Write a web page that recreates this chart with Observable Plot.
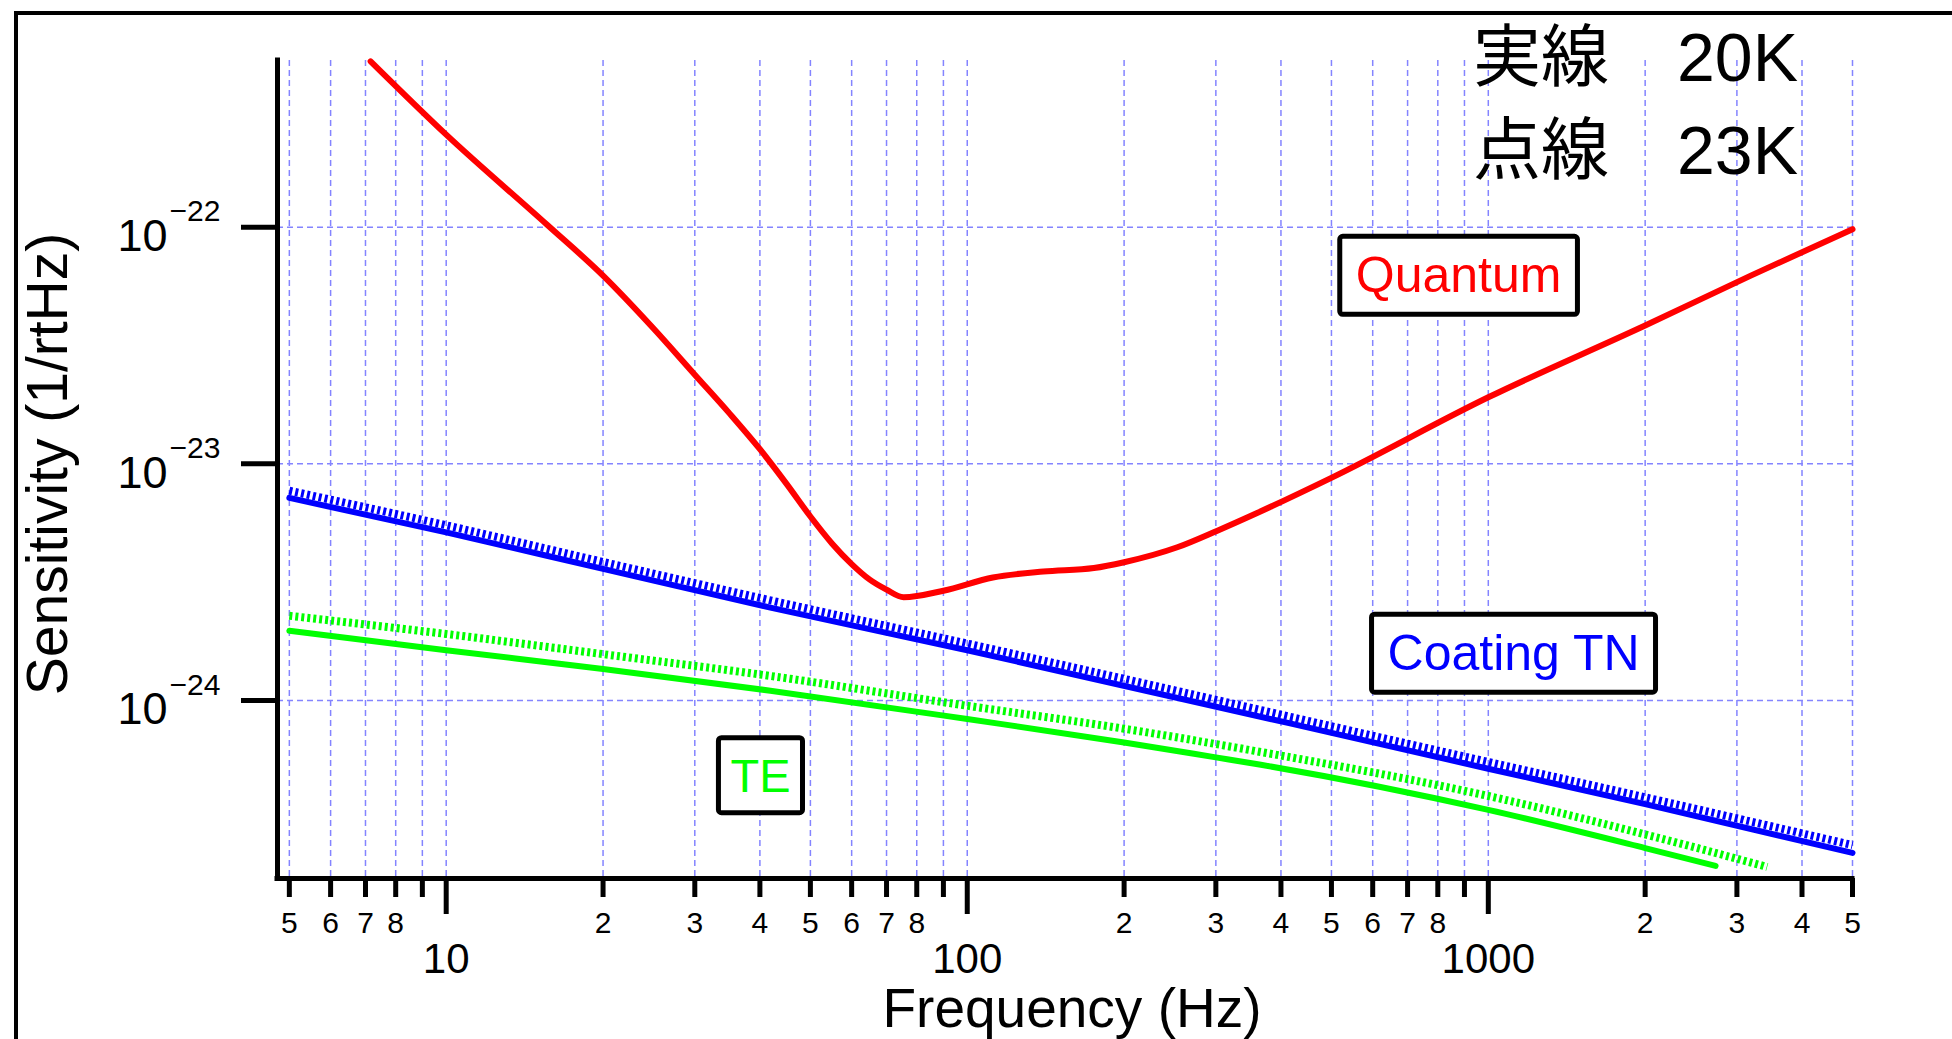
<!DOCTYPE html>
<html>
<head>
<meta charset="utf-8">
<script src="https://cdn.jsdelivr.net/npm/d3@7"></script>
<script src="https://cdn.jsdelivr.net/npm/@observablehq/plot@0.6"></script>
<style>
html, body { margin: 0; padding: 0; background: #fff; }
#wrap { position: relative; width: 1952px; height: 1039px; overflow: hidden; }
#wrap svg { position: absolute; left: 0; top: 0; }
#border { position: absolute; left: 14px; top: 11px; right: -20px; bottom: -20px;
  border-left: 4px solid #000; border-top: 4px solid #000; pointer-events: none; }
</style>
</head>
<body>
<div id="wrap"><div id="border"></div></div>
<script>
// ---- axes ----
const xDomain = [4.745, 5000];
const yDomain = [1.77e-25, 5.06e-22];
const xMinorTicks = [5, 6, 7, 8, 9, 20, 30, 40, 50, 60, 70, 80, 90, 200, 300, 400, 500, 600, 700, 800, 900, 2000, 3000, 4000, 5000];
const xMajorTicks = [10, 100, 1000];
const xDigitLabels = [5, 6, 7, 8, 20, 30, 40, 50, 60, 70, 80, 200, 300, 400, 500, 600, 700, 800, 2000, 3000, 4000, 5000];
const yTicks = [1e-22, 1e-23, 1e-24];
const yExponents = ["\u221222", "\u221223", "\u221224"];
const xTitle = "Frequency (Hz)";
const yTitle = "Sensitivity (1/rtHz)";

// ---- series (Hz, 1/rtHz) ----
const quantumF = [7.16, 10, 15.6, 20, 25, 30, 35, 40, 45, 50, 55, 60, 65, 70, 75.5, 90, 112, 140, 175, 200, 253, 302, 360, 502, 1000, 2000, 3190, 5000];
const quantumV = [5.02e-22, 2.46e-22, 1.026e-22, 6.24e-23, 3.73e-23, 2.38e-23, 1.63e-23, 1.153e-23, 8.23e-24, 5.99e-24, 4.61e-24, 3.77e-24, 3.24e-24, 2.94e-24, 2.73e-24, 2.91e-24, 3.31e-24, 3.51e-24, 3.63e-24, 3.84e-24, 4.44e-24, 5.22e-24, 6.2e-24, 8.77e-24, 1.91e-23, 3.84e-23, 6.24e-23, 9.8e-23];

const coatF = [5, 10, 20, 41.9, 100, 1000, 2000, 5000];
const coat20 = [7.18e-24, 5.13e-24, 3.60e-24, 2.47e-24, 1.63e-24, 5.15e-25, 3.65e-25, 2.27e-25];
const coat23 = [7.70e-24, 5.50e-24, 3.85e-24, 2.65e-24, 1.74e-24, 5.50e-25, 3.90e-25, 2.45e-25];

const te20F = [5, 10, 20, 41.9, 100, 200, 300, 366, 1000, 2000, 2730];
const te20 = [1.97e-24, 1.63e-24, 1.36e-24, 1.10e-24, 8.35e-25, 6.65e-25, 5.75e-25, 5.35e-25, 3.45e-25, 2.38e-25, 2.0e-25];
const te23F = [5, 10, 20, 41.9, 100, 200, 366, 1000, 2000, 3430];
const te23 = [2.28e-24, 1.91e-24, 1.57e-24, 1.27e-24, 9.5e-25, 7.6e-25, 6.06e-25, 3.95e-25, 2.72e-25, 1.98e-25];

// ---- annotations ----
const boxLabels = ["Quantum", "Coating TN", "TE"];
const boxF = [877, 1118, 40.1];
const boxV = [6.2e-23, 1.57e-24, 4.77e-25];
const tempLines = ["実線\u300020K", "点線\u300023K"];
const tempF = [3930, 3930];
const tempV = [5.1e-22, 2.07e-22];

const toRows = (F, V) => F.map((f, i) => ({f, v: V[i]}));

const RED = "#ff0000", BLUE = "#0000ff", GREEN = "#00ff00", GRID = "#8484ff";
const FONT = "'Liberation Sans', Arial, 'Noto Sans CJK JP', sans-serif";
const DOT = "3,3";

const plot = Plot.plot({
  width: 1952,
  height: 1039,
  marginLeft: 277,
  marginRight: 100,
  marginTop: 60,
  marginBottom: 161,
  style: {background: "transparent", fontFamily: FONT, overflow: "visible", color: "#000"},
  x: {type: "log", domain: xDomain},
  y: {type: "log", domain: yDomain},
  marks: [
    Plot.gridX({ticks: [...xMinorTicks, ...xMajorTicks], stroke: GRID, strokeOpacity: 1, strokeWidth: 1.5, strokeDasharray: "6,4"}),
    Plot.gridY({ticks: yTicks, stroke: GRID, strokeOpacity: 1, strokeWidth: 1.5, strokeDasharray: "6,4"}),

    // series
    Plot.line(toRows(te23F, te23), {x: "f", y: "v", stroke: GREEN, strokeWidth: 8, strokeDasharray: DOT, strokeLinecap: "butt", curve: "monotone-x"}),
    Plot.line(toRows(te20F, te20), {x: "f", y: "v", stroke: GREEN, strokeWidth: 6, curve: "monotone-x"}),
    Plot.line(toRows(coatF, coat23), {x: "f", y: "v", stroke: BLUE, strokeWidth: 8, strokeDasharray: DOT, strokeLinecap: "butt", curve: "monotone-x"}),
    Plot.line(toRows(coatF, coat20), {x: "f", y: "v", stroke: BLUE, strokeWidth: 6, curve: "monotone-x"}),
    Plot.line(toRows(quantumF, quantumV), {x: "f", y: "v", stroke: RED, strokeWidth: 6, curve: "monotone-x"}),

    // axis lines
    Plot.ruleX([xDomain[0]], {stroke: "#000", strokeWidth: 5, strokeLinecap: "square"}),
    Plot.ruleY([yDomain[0]], {stroke: "#000", strokeWidth: 5, strokeLinecap: "square"}),

    // tick marks
    Plot.axisY({ticks: yTicks, anchor: "left", tickSize: 36, strokeWidth: 5, stroke: "#000", tickFormat: () => "", label: null}),
    Plot.axisX({ticks: xMinorTicks, anchor: "bottom", tickSize: 19, strokeWidth: 5, stroke: "#000", tickFormat: () => "", label: null}),
    Plot.axisX({ticks: xMajorTicks, anchor: "bottom", tickSize: 36, strokeWidth: 5, stroke: "#000", tickFormat: () => "", label: null}),

    // tick labels
    Plot.text(xDigitLabels, {x: d => d, frameAnchor: "bottom", dy: 44.5, text: d => String(d).charAt(0), fontSize: 30, fill: "#000", lineAnchor: "middle", textAnchor: "middle"}),
    Plot.text(xMajorTicks, {x: d => d, frameAnchor: "bottom", dy: 81.5, text: d => String(d), fontSize: 42, fill: "#000", lineAnchor: "middle", textAnchor: "middle"}),
    Plot.text(yTicks, {y: d => d, frameAnchor: "left", dx: -110, dy: 9.5, textAnchor: "end", text: () => "10", fontSize: 45, fill: "#000", lineAnchor: "middle"}),
    Plot.text(yTicks, {y: d => d, frameAnchor: "left", dx: -108, dy: -15.5, textAnchor: "start", text: (d, i) => yExponents[i], fontSize: 30, fill: "#000", lineAnchor: "middle"}),

    // axis titles
    Plot.text([xTitle], {frameAnchor: "bottom", dx: 7, dy: 131, text: d => d, fontSize: 55, fill: "#000", lineAnchor: "middle", textAnchor: "middle"}),
    Plot.text([yTitle], {frameAnchor: "left", dx: -229, dy: -5.5, rotate: -90, text: d => d, fontSize: 57, fill: "#000", lineAnchor: "middle", textAnchor: "middle"}),

    // boxed labels
    Plot.text([0], {x: () => boxF[0], y: () => boxV[0], text: () => boxLabels[0], fill: RED, fontSize: 50, lineAnchor: "middle"}),
    Plot.text([1], {x: () => boxF[1], y: () => boxV[1], text: () => boxLabels[1], fill: BLUE, fontSize: 50, lineAnchor: "middle"}),
    Plot.text([2], {x: () => boxF[2], y: () => boxV[2], text: () => boxLabels[2], fill: GREEN, fontSize: 47, lineAnchor: "middle"}),

    // temperature legend
    Plot.text(tempLines, {x: (d, i) => tempF[i], y: (d, i) => tempV[i], text: d => d, textAnchor: "end", fontSize: 68, fill: "#000", lineAnchor: "middle"})
  ]
});

document.getElementById("wrap").insertBefore(plot, document.getElementById("border"));

// draw white boxes with black borders behind the boxed labels
const NS = "http://www.w3.org/2000/svg";
const boxedTexts = Array.from(plot.querySelectorAll("text")).filter(t => boxLabels.includes(t.textContent));
boxedTexts.forEach(t => {
  const b = t.getBBox();
  const padX = t.textContent.length < 3 ? 12 : 16, padY = 11;
  const r = document.createElementNS(NS, "rect");
  r.setAttribute("x", b.x - padX);
  r.setAttribute("y", b.y - padY);
  r.setAttribute("width", b.width + 2 * padX);
  r.setAttribute("height", b.height + 2 * padY);
  r.setAttribute("rx", 3);
  r.setAttribute("fill", "#fff");
  r.setAttribute("stroke", "#000");
  r.setAttribute("stroke-width", 5);
  const tr = t.getAttribute("transform");
  if (tr) r.setAttribute("transform", tr);
  t.parentNode.insertBefore(r, t);
});
</script>
</body>
</html>
